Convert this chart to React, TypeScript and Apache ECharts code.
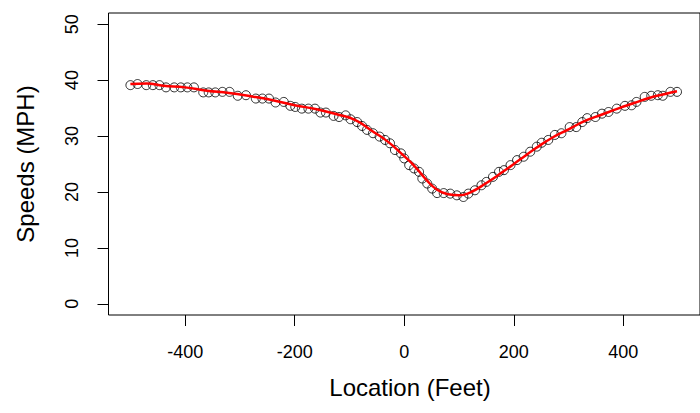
import React, { useEffect, useRef } from "react";
import * as echarts from "echarts";

const locationFeet = [
  -500, -487, -471, -459, -447, -435, -420, -408, -396, -384, -367, -357, -345, -332, -319,
  -304, -289, -271, -259, -247, -235, -220, -208, -199, -187, -175, -163, -153, -143, -129,
  -119, -107, -98, -86, -77, -68, -57, -45, -35, -26, -17, -6, 0, 9, 18, 27, 33, 42, 51, 60,
  72, 84, 96, 108, 117, 129, 141, 150, 162, 173, 182, 194, 206, 218, 230, 242, 251, 263, 275,
  287, 302, 314, 325, 334, 349, 361, 373, 388, 403, 415, 424, 439, 451, 463, 472, 486, 498,
];
const speedsMph = [
  39.1, 39.3, 39.1, 39.1, 39.1, 38.7, 38.7, 38.7, 38.7, 38.7, 37.8, 37.8, 37.8, 37.9, 37.9,
  37.2, 37.3, 36.7, 36.7, 36.7, 36.0, 36.1, 35.4, 35.2, 34.9, 34.9, 34.9, 34.2, 34.2, 33.6,
  33.4, 33.7, 33.0, 32.5, 31.8, 31.1, 30.5, 29.9, 29.3, 28.7, 27.5, 26.9, 26.0, 24.8, 24.2,
  23.6, 22.4, 21.5, 20.6, 19.8, 19.8, 19.7, 19.4, 19.1, 19.7, 20.3, 21.2, 21.8, 22.7, 23.6,
  23.9, 24.8, 25.7, 26.3, 27.2, 28.1, 28.8, 29.3, 30.2, 30.5, 31.6, 31.6, 32.5, 33.2, 33.4,
  34.0, 34.3, 34.9, 35.4, 35.5, 36.1, 37.0, 37.2, 37.3, 37.2, 37.9, 37.9,
];

const smoothX = [
  -500, -470, -440, -400, -360, -320, -280, -240, -200, -160, -120, -90, -60, -30, 0, 20, 40,
  60, 80, 100, 120, 150, 180, 210, 240, 270, 300, 330, 360, 390, 420, 450, 480, 498,
];
const smoothY = [
  39.3, 39.4, 39.0, 38.7, 38.1, 37.7, 37.1, 36.4, 35.5, 34.8, 33.8, 32.9, 31.0, 29.0, 26.4,
  24.5, 22.2, 20.4, 19.6, 19.4, 19.9, 21.6, 23.6, 25.7, 27.8, 29.7, 31.2, 32.7, 33.8, 34.9,
  35.9, 36.9, 37.6, 38.0,
];

const xTicks = [-400, -200, 0, 200, 400];
const yTicks = [0, 10, 20, 30, 40, 50];

export default function App() {
  const ref = useRef<HTMLDivElement>(null);
  useEffect(() => {
    if (!ref.current) return;
    const chart = echarts.init(ref.current, null, { renderer: "svg" });
    const font = "Liberation Sans, Arial, sans-serif";
    chart.setOption({
      animation: false,
      backgroundColor: "#ffffff",
      grid: {
        left: 108.5,
        top: 13,
        width: 604,
        height: 302,
        show: true,
        borderColor: "#000",
        borderWidth: 1,
        backgroundColor: "transparent",
      },
      xAxis: {
        type: "value",
        min: -540,
        max: 540,
        position: "bottom",
        axisLine: { show: false, onZero: false },
        splitLine: { show: false },
        axisTick: { show: true, customValues: xTicks, length: 11, lineStyle: { color: "#000", width: 1 } },
        axisLabel: {
          customValues: xTicks,
          margin: 28,
          fontSize: 18,
          color: "#000",
          fontFamily: font,
        },
      },
      yAxis: {
        type: "value",
        min: -2,
        max: 52,
        position: "left",
        axisLine: { show: false, onZero: false },
        splitLine: { show: false },
        axisTick: { show: true, customValues: yTicks, length: 11, lineStyle: { color: "#000", width: 1 } },
        axisLabel: {
          customValues: yTicks,
          rotate: 90,
          margin: 28,
          fontSize: 18,
          color: "#000",
          fontFamily: font,
        },
      },
      graphic: [
        {
          type: "text",
          x: 410,
          y: 387,
          style: {
            text: "Location (Feet)",
            fontSize: 24,
            fontFamily: font,
            fill: "#000",
            align: "center",
            verticalAlign: "middle",
          },
        },
        {
          type: "text",
          x: 25,
          y: 164,
          rotation: Math.PI / 2,
          style: {
            text: "Speeds (MPH)",
            fontSize: 24,
            fontFamily: font,
            fill: "#000",
            align: "center",
            verticalAlign: "middle",
          },
        },
      ],
      series: [
        {
          type: "scatter",
          data: locationFeet.map((x, i) => [x, speedsMph[i]]),
          symbol: "circle",
          symbolSize: 9,
          itemStyle: { color: "transparent", borderColor: "#000", borderWidth: 1 },
          z: 2,
        },
        {
          type: "line",
          data: smoothX.map((x, i) => [x, smoothY[i]]),
          smooth: true,
          showSymbol: false,
          lineStyle: { color: "#ff0000", width: 2.5 },
          z: 3,
        },
      ],
    });
    return () => chart.dispose();
  }, []);
  return (
    <div
      ref={ref}
      style={{ position: "fixed", left: 0, top: 0, width: 700, height: 413, background: "#fff" }}
    />
  );
}
